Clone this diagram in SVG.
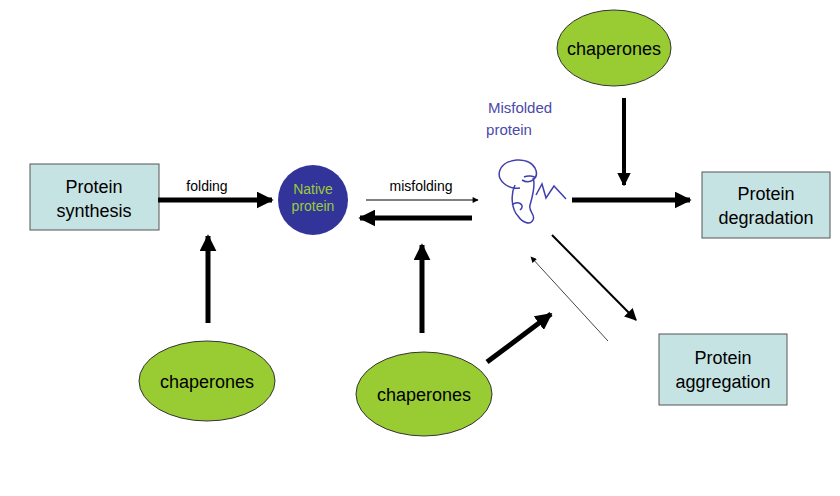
<svg xmlns="http://www.w3.org/2000/svg" width="840" height="496" viewBox="0 0 840 496">
<defs>
<style>
.box{fill:#c6e3e4;stroke:#555;stroke-width:1}
.chap{fill:#99cc33;stroke:#333;stroke-width:1}
.bt{font-family:"Liberation Sans",Arial,sans-serif;font-size:18px;fill:#000;text-anchor:middle}
.lt{font-family:"Liberation Sans",Arial,sans-serif;font-size:14px;fill:#000;text-anchor:middle}
</style>
<marker id="ah" viewBox="0 0 10 10" refX="9" refY="5" markerWidth="3.4" markerHeight="3.4" orient="auto" markerUnits="strokeWidth"><path d="M0,0L10,5L0,10z" fill="#000"/></marker>
<marker id="ahs" viewBox="0 0 10 10" refX="9" refY="5" markerWidth="8" markerHeight="6" orient="auto" markerUnits="strokeWidth"><path d="M0,0L10,5L0,10z" fill="#000"/></marker>
</defs>
<rect width="840" height="496" fill="#fff"/>
<g id="synthesis"><rect class="box" x="30" y="164" width="129" height="66"/><text class="bt" x="94" y="193">Protein</text><text class="bt" x="94" y="217">synthesis</text></g>
<g id="native"><circle cx="313" cy="200" r="35" fill="#32349a"/><text x="313" y="194" font-family="Liberation Sans,Arial,sans-serif" font-size="14" fill="#9acb3a" text-anchor="middle">Native</text><text x="313" y="211" font-family="Liberation Sans,Arial,sans-serif" font-size="14" fill="#9acb3a" text-anchor="middle">protein</text></g>
<g id="misfolded"><text x="520" y="113" font-family="Liberation Sans,Arial,sans-serif" font-size="15" fill="#4a4aa8" text-anchor="middle">Misfolded</text><text x="509" y="135" font-family="Liberation Sans,Arial,sans-serif" font-size="15" fill="#4a4aa8" text-anchor="middle">protein</text>
<path d="M520,188 C508,190 496,180 500,170 C505,158 528,156 535,168 C540,178 530,185 522,180 M524,177 C528,175 534,176 536,178 M515,185 C510,195 512,210 518,216 C522,222 530,226 533,220 C536,214 528,212 530,205 C532,198 536,185 533,178 M512,205 C518,200 526,205 520,210 M536,195 L542,184 L546,198 L554,186 L566,199" fill="none" stroke="#3f3fae" stroke-width="1.5"/></g>
<g id="degradation"><rect class="box" x="702" y="172" width="128" height="66"/><text class="bt" x="766" y="200">Protein</text><text class="bt" x="766" y="224">degradation</text></g>
<g id="aggregation"><rect class="box" x="659" y="334" width="128" height="71"/><text class="bt" x="723" y="364">Protein</text><text class="bt" x="723" y="388">aggregation</text></g>
<g id="chap-top"><ellipse class="chap" cx="614" cy="48" rx="57" ry="38"/><text class="bt" x="614" y="55">chaperones</text></g>
<g id="chap-left"><ellipse class="chap" cx="207" cy="381" rx="68" ry="40"/><text class="bt" x="207" y="388">chaperones</text></g>
<g id="chap-mid"><ellipse class="chap" cx="424" cy="394" rx="68" ry="42"/><text class="bt" x="424" y="401">chaperones</text></g>
<g id="connectors" stroke="#000" fill="none">
<line x1="158" y1="200" x2="272" y2="200" stroke-width="5" marker-end="url(#ah)"/>
<text class="lt" x="207" y="191" stroke="none">folding</text>
<line x1="366" y1="200" x2="478" y2="200" stroke-width="1" marker-end="url(#ahs)"/>
<text class="lt" x="421" y="191" stroke="none">misfolding</text>
<line x1="472" y1="218" x2="360" y2="218" stroke-width="5" marker-end="url(#ah)"/>
<line x1="572" y1="200" x2="690" y2="200" stroke-width="5" marker-end="url(#ah)"/>
<line x1="624" y1="98" x2="624" y2="185" stroke-width="4" marker-end="url(#ah)"/>
<line x1="208" y1="323" x2="208" y2="236" stroke-width="5" marker-end="url(#ah)"/>
<line x1="422" y1="333" x2="422" y2="245" stroke-width="5" marker-end="url(#ah)"/>
<line x1="487" y1="362" x2="551" y2="314" stroke-width="5" marker-end="url(#ah)"/>
<line x1="552" y1="235" x2="636" y2="320" stroke-width="2" marker-end="url(#ahs)"/>
<line x1="608" y1="341" x2="531" y2="257" stroke-width="1" stroke="#444" marker-end="url(#ahs)"/>
</g>
</svg>
